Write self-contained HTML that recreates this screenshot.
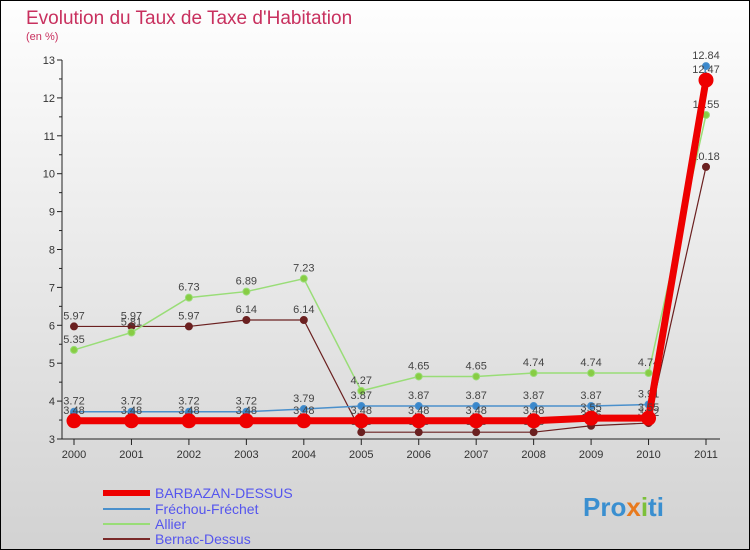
<!DOCTYPE html>
<html><head><meta charset="utf-8"><style>
body{margin:0}
#c{width:750px;height:550px;position:relative;overflow:hidden;font-family:"Liberation Sans",sans-serif}
</style></head><body>
<div id="c">
<svg id="s" width="750" height="550" xmlns="http://www.w3.org/2000/svg">
<defs><linearGradient id="bg" x1="0" y1="0" x2="0" y2="1"><stop offset="0" stop-color="#fefefe"/><stop offset="1" stop-color="#d2d2d2"/></linearGradient></defs>
<rect x="0.5" y="0.5" width="749" height="549" fill="url(#bg)" stroke="#000"/>
<text x="26" y="24" font-size="19" fill="#c8305e">Evolution du Taux de Taxe d'Habitation</text>
<text x="26" y="40" font-size="11" fill="#c8305e">(en %)</text>
<g id="axes"></g><g id="series"></g>
<g font-size="14">
<line x1="103" y1="493" x2="150" y2="493" stroke="#ee0000" stroke-width="6"/>
<text x="155" y="498" fill="#5555ee">BARBAZAN-DESSUS</text>
<line x1="103" y1="509" x2="150" y2="509" stroke="#4a90cc" stroke-width="2"/>
<text x="155" y="514" fill="#5555ee">Fréchou-Fréchet</text>
<line x1="103" y1="524" x2="150" y2="524" stroke="#99dd77" stroke-width="2"/>
<text x="155" y="529" fill="#5555ee">Allier</text>
<line x1="103" y1="539" x2="150" y2="539" stroke="#7a2a2a" stroke-width="2"/>
<text x="155" y="544" fill="#5555ee">Bernac-Dessus</text>
</g>
<text x="583" y="516" font-size="26" font-weight="bold" fill="#3a8fd0">Pro<tspan fill="#e87a1e">x</tspan><tspan fill="#7cc03a">i</tspan>ti</text>
</svg></div>
<script>
const years=["2000","2001","2002","2003","2004","2005","2006","2007","2008","2009","2010","2011"];
const yTicks=[3,4,5,6,7,8,9,10,11,12,13];
const barbazan=[3.48,3.48,3.48,3.48,3.48,3.48,3.48,3.48,3.48,3.55,3.55,12.47];
const frechou=[3.72,3.72,3.72,3.72,3.79,3.87,3.87,3.87,3.87,3.87,3.91,12.84];
const allier=[5.35,5.81,6.73,6.89,7.23,4.27,4.65,4.65,4.74,4.74,4.74,11.55];
const bernac=[5.97,5.97,5.97,6.14,6.14,3.18,3.18,3.18,3.18,3.35,3.42,10.18];
const NS="http://www.w3.org/2000/svg";
const X=i=>74+i*(706-74)/(years.length-1);
const Y=v=>439-(v-3)*(439-60)/10;
function mk(t,a,p){const e=document.createElementNS(NS,t);for(const k in a)e.setAttribute(k,a[k]);p.appendChild(e);return e;}
const ax=document.getElementById('axes'),sg=document.getElementById('series');
mk('line',{x1:62,y1:60,x2:62,y2:439,stroke:'#222'},ax);
mk('line',{x1:62,y1:439,x2:720,y2:439,stroke:'#222'},ax);
yTicks.forEach(v=>{mk('line',{x1:57,y1:Y(v),x2:62,y2:Y(v),stroke:'#222'},ax);
if(v<13)mk('line',{x1:59,y1:Y(v+0.5),x2:62,y2:Y(v+0.5),stroke:'#222'},ax);
const t=mk('text',{x:55,y:Y(v)+4,'font-size':11,fill:'#333','text-anchor':'end'},ax);t.textContent=v;

});
years.forEach((y,i)=>{mk('line',{x1:X(i),y1:439,x2:X(i),y2:445,stroke:'#222'},ax);
const t=mk('text',{x:X(i),y:458,'font-size':11,fill:'#333','text-anchor':'middle'},ax);t.textContent=y;

});
function draw(vals,name,col,w,r,dot){const g=mk('g',{},sg);


mk('polyline',{points:vals.map((v,i)=>X(i)+','+Y(v)).join(' '),fill:'none',stroke:col,'stroke-width':w},g);
vals.forEach((v,i)=>{const c=mk('circle',{cx:X(i),cy:Y(v),r:r,fill:dot,stroke:col,'stroke-width':1},g);


const t=mk('text',{x:X(i),y:Y(v)-7,'font-size':11,fill:'#444','text-anchor':'middle'},g);t.textContent=v.toFixed(2).replace(/0$/,'');});}
draw(bernac,'bernac','#6b2020',1.2,3.5,'#6b2020');
draw(allier,'allier','#99dd77',1.5,3.5,'#88cc44');
draw(frechou,'frechou','#4a90cc',1.5,3.5,'#3a88cc');
draw(barbazan,'barbazan','#ee0000',7,7,'#ee0000');
</script>
</body></html>
